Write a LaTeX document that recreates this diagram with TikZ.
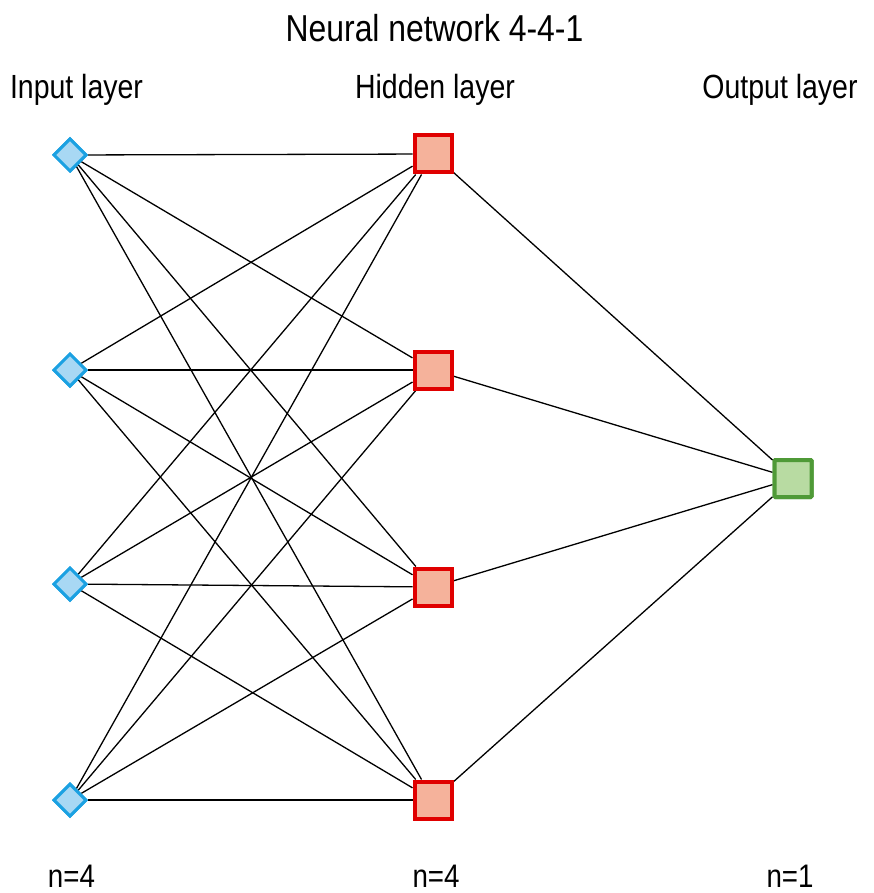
\documentclass[tikz,border=0pt]{standalone}
\usepackage{fontspec}
\setmainfont[FakeStretch=0.85]{Liberation Sans}
\usetikzlibrary{shapes.geometric}
\definecolor{inblue}{HTML}{1BA1E2}
\definecolor{infill}{HTML}{A8D8F4}
\definecolor{hidred}{HTML}{E00000}
\definecolor{hidfill}{HTML}{F5B29B}
\definecolor{outgreen}{HTML}{4F9A37}
\definecolor{outfill}{HTML}{B8DBA2}
\tikzset{
  inneuron/.style={diamond, draw=inblue, fill=infill, line width=3pt, minimum size=33pt, inner sep=0pt},
  hidneuron/.style={rectangle, draw=hidred, fill=hidfill, line width=4pt, minimum size=37pt, inner sep=0pt},
  outneuron/.style={rectangle, draw=outgreen, fill=outfill, line width=4pt, minimum size=37pt, inner sep=0pt, rounded corners=1pt},
  conn/.style={line width=1.3pt, black},
  lbl/.style={font=\fontsize{33.5}{38}\selectfont, inner sep=0pt, anchor=base},
  cnt/.style={font=\fontsize{32.6}{38}\selectfont, inner sep=0pt, anchor=base},
  ttl/.style={font=\fontsize{37.5}{42}\selectfont, inner sep=0pt, anchor=base}
}
\begin{document}
\begin{tikzpicture}[x=1pt,y=-1pt]
\useasboundingbox[fill=white] (0,0) rectangle (874,893);
\node[ttl] (title) at (434.5,42) {Neural network 4-4-1};
\node[lbl] (lin) at (76.5,99) {Input layer};
\node[lbl] (lhid) at (435,99) {Hidden layer};
\node[lbl] (lout) at (780,99) {Output layer};
\node[cnt] (nin) at (71.5,887) {n=4};
\node[cnt] (nhid) at (436,887) {n=4};
\node[cnt] (nout) at (790,887) {n=1};
% nodes
\foreach \i/\y in {1/155,2/370,3/584,4/800} {
  \node[inneuron] (i\i) at (70,\y) {};
}
\foreach \j/\y in {1/154,2/370,3/587,4/800} {
  \node[hidneuron] (h\j) at (433,\y) {};
}
\node[outneuron] (o) at (793,478.5) {};
% connectors
\foreach \i in {1,...,4} {
  \foreach \j in {1,...,4} {
    \draw[conn] (i\i) -- (h\j);
  }
}
\foreach \j in {1,...,4} {
  \draw[conn] (h\j) -- (o);
}
% redraw nodes on top of the connectors
\foreach \i/\y in {1/155,2/370,3/584,4/800} {
  \node[inneuron] at (70,\y) {};
}
\foreach \j/\y in {1/154,2/370,3/587,4/800} {
  \node[hidneuron] at (433,\y) {};
}
\node[outneuron] at (793,478.5) {};
\end{tikzpicture}
\end{document}
